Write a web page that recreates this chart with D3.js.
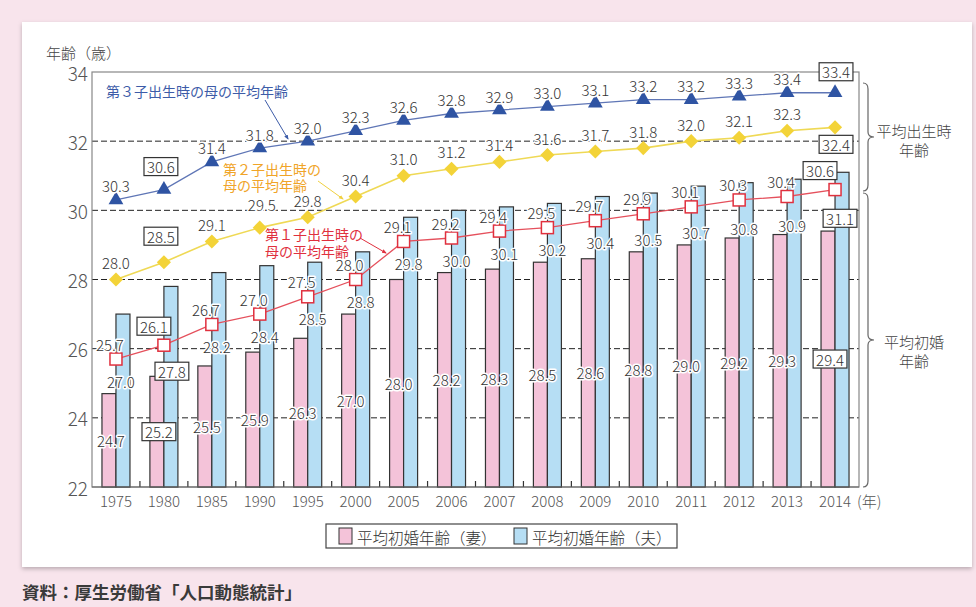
<!DOCTYPE html>
<html>
<head>
<meta charset="utf-8">
<script src="https://cdn.jsdelivr.net/npm/d3@7"></script>
<style>
  body { margin: 0; background: #f8e4ec; }
  svg { display: block; }
  text { font-family: "Noto Sans CJK JP", "Noto Sans", sans-serif; font-weight: 300; }
</style>
</head>
<body>
<svg id="chart" width="976" height="607"></svg>
<script>
// Data
const years = ['1975','1980','1985','1990','1995','2000','2005','2006','2007','2008','2009','2010','2011','2012','2013','2014'];
const wife    = [24.7, 25.2, 25.5, 25.9, 26.3, 27.0, 28.0, 28.2, 28.3, 28.5, 28.6, 28.8, 29.0, 29.2, 29.3, 29.4];
const husband = [27.0, 27.8, 28.2, 28.4, 28.5, 28.8, 29.8, 30.0, 30.1, 30.2, 30.4, 30.5, 30.7, 30.8, 30.9, 31.1];
const first   = [25.7, 26.1, 26.7, 27.0, 27.5, 28.0, 29.1, 29.2, 29.4, 29.5, 29.7, 29.9, 30.1, 30.3, 30.4, 30.6];
const second  = [28.0, 28.5, 29.1, 29.5, 29.8, 30.4, 31.0, 31.2, 31.4, 31.6, 31.7, 31.8, 32.0, 32.1, 32.3, 32.4];
const third   = [30.3, 30.6, 31.4, 31.8, 32.0, 32.3, 32.6, 32.8, 32.9, 33.0, 33.1, 33.2, 33.2, 33.3, 33.4, 33.4];
const yTicks  = [22, 24, 26, 28, 30, 32, 34];
const boxed   = [1, 15]; // 1980 and 2014 values are framed

const svg = d3.select('#chart');
const fmt = d3.format('.1f');

// panel with soft shadow
const defs = svg.append('defs');
defs.append('filter').attr('id', 'shadow')
  .append('feDropShadow')
  .attr('dx', 0).attr('dy', 2).attr('stdDeviation', 2)
  .attr('flood-color', '#000').attr('flood-opacity', 0.25);
defs.append('marker').attr('id', 'arr')
  .attr('viewBox', '0 0 10 10').attr('refX', 8).attr('refY', 5)
  .attr('markerWidth', 5).attr('markerHeight', 5).attr('orient', 'auto')
  .append('path').attr('d', 'M0,1L10,5L0,9Z').attr('fill', 'context-stroke');

svg.append('rect')
  .attr('x', 22).attr('y', 22).attr('width', 950).attr('height', 545)
  .attr('fill', '#fff').attr('filter', 'url(#shadow)');

// scales
const x = d3.scaleBand().domain(years).range([92, 859]);
const y = d3.scaleLinear().domain([22, 34]).range([487, 72]);
const cx = d => x(d) + x.bandwidth() / 2;

// dashed grid
svg.append('g').selectAll('line')
  .data(yTicks.filter(t => t > 22 && t < 34))
  .join('line')
    .attr('x1', 92).attr('x2', 859)
    .attr('y1', d => y(d)).attr('y2', d => y(d))
    .attr('stroke', '#222').attr('stroke-width', 1)
    .attr('stroke-dasharray', '6,3');

// frame
svg.append('rect')
  .attr('x', 92).attr('y', 72).attr('width', 767).attr('height', 415)
  .attr('fill', 'none').attr('stroke', '#888').attr('stroke-width', 1.2);

// y axis labels
svg.append('g').selectAll('text')
  .data(yTicks)
  .join('text')
    .attr('x', 88).attr('y', d => y(d))
    .attr('text-anchor', 'end').attr('dominant-baseline', 'central')
    .attr('font-size', 19).attr('fill', '#555')
    .text(d => d);

svg.append('text')
  .attr('x', 46).attr('y', 52).attr('dominant-baseline', 'central')
  .attr('font-size', 15).attr('fill', '#444')
  .text('年齢（歳）');

// bars
const bars = svg.append('g');
bars.selectAll('rect.wife')
  .data(wife)
  .join('rect').attr('class', 'wife')
    .attr('x', (d, i) => cx(years[i]) - 14).attr('width', 14)
    .attr('y', d => y(d)).attr('height', d => y(22) - y(d))
    .attr('fill', '#f4c3d9').attr('stroke', '#333').attr('stroke-width', 1.2);
bars.selectAll('rect.husband')
  .data(husband)
  .join('rect').attr('class', 'husband')
    .attr('x', (d, i) => cx(years[i])).attr('width', 14)
    .attr('y', d => y(d)).attr('height', d => y(22) - y(d))
    .attr('fill', '#b6def4').attr('stroke', '#333').attr('stroke-width', 1.2);

// bottom axis ticks between categories
svg.append('g').selectAll('line')
  .data(years.slice(1))
  .join('line')
    .attr('x1', d => x(d)).attr('x2', d => x(d))
    .attr('y1', 487).attr('y2', 481)
    .attr('stroke', '#333').attr('stroke-width', 1.2);

svg.append('line')
  .attr('x1', 92).attr('x2', 859).attr('y1', 487).attr('y2', 487)
  .attr('stroke', '#666').attr('stroke-width', 1.2);

svg.append('g').selectAll('text')
  .data(years)
  .join('text')
    .attr('x', d => cx(d)).attr('y', 500)
    .attr('text-anchor', 'middle').attr('dominant-baseline', 'central')
    .attr('font-size', 15).attr('fill', '#555')
    .text(d => d);
svg.append('text')
  .attr('x', 857).attr('y', 500).attr('dominant-baseline', 'central')
  .attr('font-size', 15).attr('fill', '#555')
  .text('(年)');

// lines
const line = d3.line().x((d, i) => cx(years[i])).y(d => y(d));
svg.append('path').attr('d', line(third))
  .attr('fill', 'none').attr('stroke', '#5f76b6').attr('stroke-width', 1.3);
svg.append('path').attr('d', line(second))
  .attr('fill', 'none').attr('stroke', '#efd955').attr('stroke-width', 1.6);
svg.append('path').attr('d', line(first))
  .attr('fill', 'none').attr('stroke', '#e5505c').attr('stroke-width', 1.3);

// markers
svg.append('g').selectAll('path')
  .data(third)
  .join('path')
    .attr('transform', (d, i) => `translate(${cx(years[i])},${y(d)})`)
    .attr('d', d3.symbol(d3.symbolTriangle, 95))
    .attr('fill', '#2f54a3');
svg.append('g').selectAll('path')
  .data(second)
  .join('path')
    .attr('transform', (d, i) => `translate(${cx(years[i])},${y(d)}) rotate(45)`)
    .attr('d', d3.symbol(d3.symbolSquare, 100))
    .attr('fill', '#f3d338');
svg.append('g').selectAll('rect')
  .data(first)
  .join('rect')
    .attr('x', (d, i) => cx(years[i]) - 6).attr('y', d => y(d) - 6)
    .attr('width', 12).attr('height', 12)
    .attr('fill', '#fff').attr('stroke', '#e0303e').attr('stroke-width', 1.5);

// value labels
const labels = svg.append('g');
function addLabel(v, lx, ly, isBox) {
  const t = labels.append('text')
    .attr('x', lx).attr('y', ly)
    .attr('text-anchor', 'middle').attr('dominant-baseline', 'central')
    .attr('font-size', 15).attr('fill', '#333')
    .text(fmt(v));
  if (isBox) {
    const b = t.node().getBBox();
    labels.insert('rect', () => t.node())
      .attr('x', b.x - 3).attr('y', ly - 9)
      .attr('width', b.width + 6).attr('height', 18)
      .attr('fill', '#fff').attr('stroke', '#333').attr('stroke-width', 1.2);
  } else {
    t.attr('stroke', '#fff').attr('stroke-width', 3)
      .attr('paint-order', 'stroke').attr('stroke-linejoin', 'round');
  }
}

// special label offsets (boxed values, crowded spots)
const shift = {
  third:   {1: [-3, -23], 15: [1, -21]},
  second:  {1: [-3, -26], 3: [2, -23], 15: [1, 17]},
  first:   {1: [-10, -19], 15: [-15, -19]},
};

third.forEach((v, i) => {
  const s = shift.third[i] || [0, -14];
  addLabel(v, cx(years[i]) + s[0], y(v) + s[1], boxed.includes(i));
});
second.forEach((v, i) => {
  const s = shift.second[i] || [0, -17];
  addLabel(v, cx(years[i]) + s[0], y(v) + s[1], boxed.includes(i));
});
first.forEach((v, i) => {
  const s = shift.first[i] || [-6, -15];
  addLabel(v, cx(years[i]) + s[0], y(v) + s[1], boxed.includes(i));
});
husband.forEach((v, i) => {
  const ly = Math.max(y(v) + 46, y(first[i]) + 22) + (i === 1 ? 4 : 0);
  addLabel(v, cx(years[i]) + 5 + (i === 1 ? 3 : 0), ly, boxed.includes(i));
});
wife.forEach((v, i) => {
  addLabel(v, cx(years[i]) - 5, (y(v) + y(22)) / 2, boxed.includes(i));
});

// series annotations
svg.append('text')
  .attr('x', 106).attr('y', 91).attr('dominant-baseline', 'central')
  .attr('font-size', 14).style('font-weight', 400).attr('fill', '#3d5ca8')
  .text('第３子出生時の母の平均年齢');
svg.append('path').attr('d', 'M265,100L288,139')
  .attr('fill', 'none').attr('stroke', '#3d5ca8').attr('stroke-width', 1)
  .attr('marker-end', 'url(#arr)');

const ann2 = svg.append('text').attr('font-size', 14).style('font-weight', 400).attr('fill', '#f0a428');
ann2.append('tspan').attr('x', 223).attr('y', 175).text('第２子出生時の');
ann2.append('tspan').attr('x', 223).attr('y', 191).text('母の平均年齢');
svg.append('path').attr('d', 'M318,181L343,199')
  .attr('fill', 'none').attr('stroke', '#f0d040').attr('stroke-width', 1)
  .attr('marker-end', 'url(#arr)');

const ann1 = svg.append('text').attr('font-size', 14).style('font-weight', 400).attr('fill', '#e0303e');
ann1.append('tspan').attr('x', 265).attr('y', 240).text('第１子出生時の');
ann1.append('tspan').attr('x', 265).attr('y', 257).text('母の平均年齢');
svg.append('path').attr('d', 'M360,238L386,253')
  .attr('fill', 'none').attr('stroke', '#e0303e').attr('stroke-width', 1)
  .attr('marker-end', 'url(#arr)');

// right braces
function brace(y0, y1) {
  const m = (y0 + y1) / 2, xa = 863, xb = 868, xc = 874;
  return `M${xa},${y0} Q${xb},${y0} ${xb},${y0 + 6} L${xb},${m - 5} Q${xb},${m} ${xc},${m}` +
         ` Q${xb},${m} ${xb},${m + 5} L${xb},${y1 - 6} Q${xb},${y1} ${xa},${y1}`;
}
svg.append('path').attr('d', brace(83, 191))
  .attr('fill', 'none').attr('stroke', '#666').attr('stroke-width', 1.2);
svg.append('path').attr('d', brace(193, 487))
  .attr('fill', 'none').attr('stroke', '#666').attr('stroke-width', 1.2);

[['平均出生時', 130], ['年齢', 149], ['平均初婚', 341], ['年齢', 360]].forEach(([s, ty]) => {
  svg.append('text')
    .attr('x', 914).attr('y', ty)
    .attr('text-anchor', 'middle').attr('dominant-baseline', 'central')
    .attr('font-size', 15).attr('fill', '#444')
    .text(s);
});

// legend
const lg = svg.append('g');
lg.append('rect').attr('x', 326).attr('y', 524).attr('width', 351).attr('height', 24)
  .attr('fill', '#fff').attr('stroke', '#444').attr('stroke-width', 1.2);
[['平均初婚年齢（妻）', '#f4c3d9', 339], ['平均初婚年齢（夫）', '#b6def4', 514]].forEach(([s, c, lx]) => {
  lg.append('rect').attr('x', lx).attr('y', 528).attr('width', 13).attr('height', 16)
    .attr('fill', c).attr('stroke', '#333').attr('stroke-width', 1);
  lg.append('text').attr('x', lx + 18).attr('y', 536.5)
    .attr('dominant-baseline', 'central').attr('font-size', 15.5).attr('fill', '#333')
    .text(s);
});

// source
svg.append('text')
  .attr('x', 22).attr('y', 591).attr('dominant-baseline', 'central')
  .attr('font-size', 17.5).style('font-weight', 700).attr('fill', '#3a3a3a')
  .text('資料：厚生労働省「人口動態統計」');
</script>
</body>
</html>
